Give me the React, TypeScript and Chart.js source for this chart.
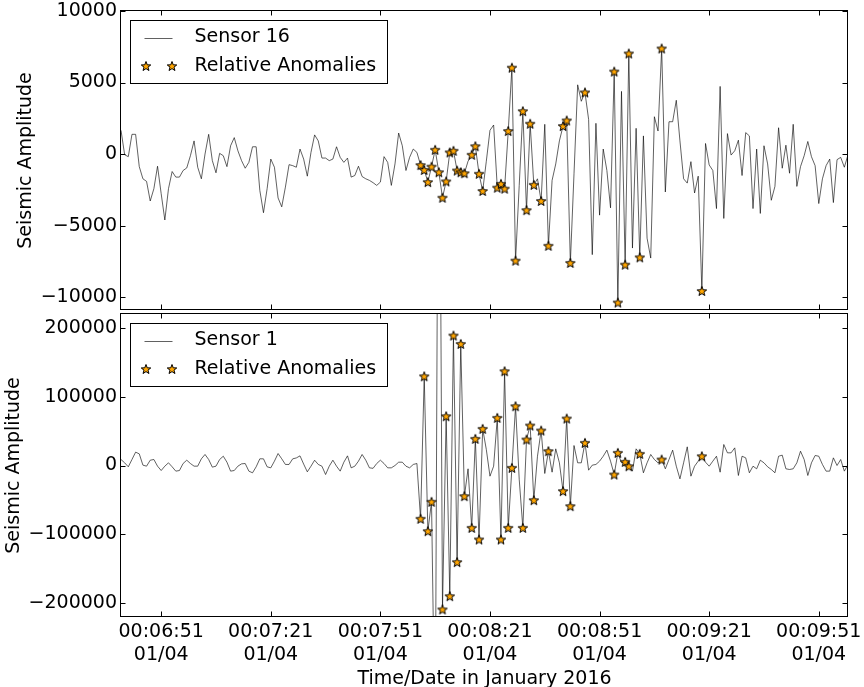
import React, { useEffect, useRef } from "react";
import { Chart, registerables } from "chart.js";

Chart.register(...registerables);

// ---- data ----
const START_SECONDS = 6 * 60 + 40; // 00:06:40, one sample per second

const SENSOR16 = [
  1660, -50, -180, 1380, 1380, -880, -1730, -1910, -3280, -2420,
  -850, -2770, -4610, -2420, -1220, -1610, -1610, -1150, -970, -115,
  920, -920, -1730, 0, 1380, -460, -1310, 50, -115, -880,
  580, 1150, 230, -460, -990, -580, 510, 510, -2540, -4100,
  -2420, -350, -920, -3070, -3690, -2310, -740, -810, -920, 350,
  -350, -1545, 115, 1340, 920, -280, -280, -460, -350, 510,
  -230, -580, -280, -1610, -1500, -850, -1570, -1730, -1840, -2000,
  -2190, -1960, -180, -580, -2190, -690, 1470, 580, -1150, -230,
  350, 115, -770, -1110, -1960, -880, 300, -1270, -3050, -1910,
  115, 230, -1150, -1270, -1340, -500, -50, 550, -1380, -2580,
  -500, 1660, 2030, -2350, -2080, -2420, 1610, 6040, -7450, -2200,
  3000, -3920, 2120, -2150, -1730, -3280, 2080, -6410, -1840, -690,
  920, 1960, 2350, -7610, -1380, 4840, 3690, 4310, 2420, -7030,
  2150, -4270, 350, -1150, -3760, 5770, -10380, 4380, -7730, 7030,
  -6570, 1800, -7220, 1270, -5880, -7270, 2610, 1610, 7380, -2650,
  2260, 2260, 3760, 920, -1730, -2030, -530, -2720, -1545, -9570,
  740, -760, -1150, -3810, 4730, -4500, 1430, -70, 230, 970,
  -1500, 1500, 1270, -3810, 350, -4150, 580, -690, -3230, -2260,
  1840, -990, 620, -1340, 2080, -2260, -880, -115, 880, -185,
  -810, -3460, -1730, -810, -350, -3390, -390, -230, -920, -50,
];

const SENSOR1 = [
  8700, 3900, -1900, 8700, 19400, 16900, 500, -970, 7700, 8700,
  -970, -7300, -970, 3900, -1900, -8200, -7300, 2900, 7700, 2900,
  -970, -970, 9700, 16000, 8700, -2400, -970, 8700, 13500, 4800,
  -8200, -7300, -970, 2400, 2900, -8200, -10600, -1900, 9700, 9700,
  -1900, -3400, 6300, 17400, 9700, 1500, 1500, 9700, 11000, 14000,
  2000, -9200, -1000, 7700, 1500, -1000, -13100, -1000, 7700, -1000,
  -8200, 4800, 14000, -3400, -1000, 6300, 16000, 7700, -3400, -4100,
  2900, 7700, 2900, -3400, -3400, 0, 4800, 4800, -1000, -3400,
  1500, 2900, -77400, 129600, -95300, -52700, -420000, 750000, -209000, 71600,
  -189700, 188700, -140300, 176600, -44500, -4800, -90500, 38700, -107400, 53200,
  23200, -15500, -1000, 69200, -107400, 136900, -90500, -3400, 86100, -20000,
  -90500, 37700, 58000, -50300, 13500, 50800, -11600, 20800, -9700, 24200,
  3900, -37200, 68200, -59000, 29000, 3900, 3900, 32900, -6800, 500,
  1500, 6300, 13500, 22300, 6300, -13100, 18400, 3900, 5300, -1000,
  -8200, 24200, 16900, -10600, 3900, 16000, 8700, 3900, 8700, -4800,
  8700, 22300, -1000, -19400, 3900, 27100, -15500, -1000, 6300, 13500,
  4800, -1000, 6300, 13500, -9700, 30500, 18400, 18400, 25600, -14500,
  13500, 11100, -10600, -1000, -4800, 7700, 3900, -1900, -5800, -10600,
  13500, 15000, -4800, -5800, -4800, 3900, 20800, 8700, -14500, 3900,
  14500, 13500, 1500, -8200, -8200, 11100, 0, 8700, -8200, 1500,
];

const ANOMALY_INDEX = [
  82, 83, 84, 85, 86, 87, 88, 89, 90, 91, 92, 93, 94,
  96, 97, 98, 99, 103, 104, 105, 106, 107, 108,
  110, 111, 112, 113, 115, 117, 121, 122, 123, 127,
  135, 136, 138, 139, 142, 148, 159,
];

const X_TICK_SECONDS = [411, 441, 471, 501, 531, 561, 591];
const X_TICK_TIME = ["00:06:51", "00:07:21", "00:07:51", "00:08:21", "00:08:51", "00:09:21", "00:09:51"];
const X_TICK_DATE = ["01/04", "01/04", "01/04", "01/04", "01/04", "01/04", "01/04"];
const X_TITLE = "Time/Date in January 2016";
const Y_TITLE = "Seismic Amplitude";

const TOP_Y_TICKS = [-10000, -5000, 0, 5000, 10000];
const TOP_Y_RANGE = [-10900, 10000];
const BOTTOM_Y_TICKS = [-200000, -100000, 0, 100000, 200000];
const BOTTOM_Y_RANGE = [-220000, 220000];

const TOP_LABELS = ["Sensor 16", "Relative Anomalies"];
const BOTTOM_LABELS = ["Sensor 1", "Relative Anomalies"];

// ---- styles ----
const LINE_COLOR = "rgba(0,0,0,0.62)";
const STAR_FILL = "#FFA500";
const FONT_FAMILY = '"DejaVu Sans", "Liberation Sans", sans-serif';
const FONT_SIZE = 19;

function makeStar(r: number): HTMLCanvasElement {
  const size = Math.ceil(r * 2 + 4);
  const c = document.createElement("canvas");
  c.width = size;
  c.height = size;
  const ctx = c.getContext("2d")!;
  const cx = size / 2;
  const cy = size / 2 + 0.5;
  const ri = r * 0.42;
  ctx.beginPath();
  for (let i = 0; i < 10; i++) {
    const rad = i % 2 === 0 ? r : ri;
    const a = -Math.PI / 2 + (i * Math.PI) / 5;
    const px = cx + rad * Math.cos(a);
    const py = cy + rad * Math.sin(a);
    if (i === 0) ctx.moveTo(px, py);
    else ctx.lineTo(px, py);
  }
  ctx.closePath();
  ctx.fillStyle = STAR_FILL;
  ctx.fill();
  ctx.lineWidth = 1;
  ctx.strokeStyle = "#000";
  ctx.stroke();
  return c;
}

function fmt(v: number): string {
  return String(v).replace("-", "\u2212");
}

const framePlugin = {
  id: "panelFrame",
  afterDatasetsDraw(chart: any, _args: any, opts: any) {
    const { ctx, chartArea: a } = chart;
    const xs = chart.scales.x;
    const ys = chart.scales.y;
    const L = Math.round(a.left) - 0.5;
    const R = Math.round(a.right) - 0.5;
    const T = Math.round(a.top) - 0.5;
    const B = Math.round(a.bottom) - 0.5;
    ctx.save();
    ctx.strokeStyle = "#000";
    ctx.lineWidth = 1;
    ctx.strokeRect(L, T, R - L, B - T);
    const len = 5;
    ctx.beginPath();
    for (const v of X_TICK_SECONDS) {
      const px = Math.round(xs.getPixelForValue(v)) + 0.5;
      ctx.moveTo(px, T);
      ctx.lineTo(px, T + len);
      ctx.moveTo(px, B);
      ctx.lineTo(px, B - len);
    }
    for (const v of opts.yTicks as number[]) {
      const py = Math.round(ys.getPixelForValue(v)) + 0.5;
      ctx.moveTo(L, py);
      ctx.lineTo(L + len, py);
      ctx.moveTo(R, py);
      ctx.lineTo(R - len, py);
    }
    ctx.stroke();
    ctx.restore();
  },
};

function makeLegendPlugin(star: HTMLCanvasElement) {
  return {
    id: "panelLegend",
    afterDraw(chart: any, _args: any, opts: any) {
      const { ctx, chartArea: a } = chart;
      const x0 = Math.round(a.left) + 9.5;
      const y0 = Math.round(a.top) + 9.5;
      const w = 257;
      const h = 63;
      ctx.save();
      ctx.fillStyle = "#fff";
      ctx.fillRect(x0, y0, w, h);
      ctx.strokeStyle = "#000";
      ctx.lineWidth = 1;
      ctx.strokeRect(x0, y0, w, h);
      const row1 = y0 + 17;
      const row2 = y0 + 45.5;
      ctx.strokeStyle = LINE_COLOR;
      ctx.beginPath();
      ctx.moveTo(x0 + 14, Math.round(row1) + 0.5);
      ctx.lineTo(x0 + 42, Math.round(row1) + 0.5);
      ctx.stroke();
      for (const sx of [x0 + 15, x0 + 41.5]) {
        ctx.drawImage(star, Math.round(sx - star.width / 2), Math.round(row2 - star.height / 2));
      }
      ctx.fillStyle = "#000";
      ctx.font = `${FONT_SIZE}px ${FONT_FAMILY}`;
      ctx.textBaseline = "middle";
      ctx.textAlign = "left";
      const labels = opts.labels as string[];
      ctx.fillText(labels[0], x0 + 64, row1);
      ctx.fillText(labels[1], x0 + 64, row2);
      ctx.restore();
    },
  };
}

function buildConfig(p: {
  values: number[];
  yRange: number[];
  yTicks: number[];
  labels: string[];
  showX: boolean;
  padding: any;
  xHeight: number;
  titlePad: number;
  star: HTMLCanvasElement;
}): any {
  const font = { family: FONT_FAMILY, size: FONT_SIZE };
  const lineData = p.values.map((v, i) => ({ x: START_SECONDS + i, y: v }));
  const anomalyData = ANOMALY_INDEX.map((i) => ({ x: START_SECONDS + i, y: p.values[i] }));
  return {
    type: "scatter",
    data: {
      datasets: [
        {
          data: lineData,
          showLine: true,
          borderColor: LINE_COLOR,
          borderWidth: 1,
          pointRadius: 0,
          pointHoverRadius: 0,
          tension: 0,
          order: 2,
        },
        {
          data: anomalyData,
          showLine: false,
          pointStyle: p.star,
          pointRadius: 5,
          pointHoverRadius: 5,
          order: 1,
        },
      ],
    },
    options: {
      responsive: false,
      animation: false,
      devicePixelRatio: 1,
      events: [],
      layout: { padding: p.padding },
      plugins: {
        legend: { display: false },
        tooltip: { enabled: false },
        panelLegend: { labels: p.labels },
        panelFrame: { yTicks: p.yTicks },
      },
      scales: {
        x: {
          type: "linear",
          min: START_SECONDS,
          max: START_SECONDS + p.values.length - 1,
          grid: { display: false, drawTicks: false, tickLength: 0 },
          border: { display: false },
          afterBuildTicks: (s: any) => {
            s.ticks = X_TICK_SECONDS.map((v) => ({ value: v }));
          },
          ticks: {
            display: p.showX,
            autoSkip: false,
            maxRotation: 0,
            minRotation: 0,
            padding: 4,
            color: "#000",
            font: { ...font, lineHeight: 1.2 },
            callback: (v: any) => {
              const k = X_TICK_SECONDS.indexOf(Number(v));
              return k < 0 ? "" : [X_TICK_TIME[k], X_TICK_DATE[k]];
            },
          },
          title: {
            display: p.showX,
            text: X_TITLE,
            color: "#000",
            font: { ...font, lineHeight: 1 },
            padding: { top: 0, bottom: -2 },
          },
          afterFit: (s: any) => {
            s.height = p.xHeight;
            s.paddingLeft = 0;
            s.paddingRight = 0;
          },
        },
        y: {
          type: "linear",
          min: p.yRange[0],
          max: p.yRange[1],
          grid: { display: false, drawTicks: false, tickLength: 0 },
          border: { display: false },
          afterBuildTicks: (s: any) => {
            s.ticks = p.yTicks.map((v) => ({ value: v }));
          },
          ticks: {
            autoSkip: false,
            padding: 4,
            color: "#000",
            font: { ...font, lineHeight: 1.2 },
            callback: (v: any) => fmt(Number(v)),
          },
          title: {
            display: true,
            text: Y_TITLE,
            color: "#000",
            font: { ...font, lineHeight: 1.2 },
            padding: { top: p.titlePad, bottom: 0 },
          },
          afterFit: (s: any) => {
            s.width = 121;
            s.paddingTop = 0;
            s.paddingBottom = 0;
          },
        },
      },
    },
    plugins: [framePlugin, makeLegendPlugin(p.star)],
  };
}

export default function App() {
  const topRef = useRef<HTMLCanvasElement>(null);
  const botRef = useRef<HTMLCanvasElement>(null);

  useEffect(() => {
    const star = makeStar(5);
    const c1 = new Chart(
      topRef.current!,
      buildConfig({
        values: SENSOR16,
        yRange: TOP_Y_RANGE,
        yTicks: TOP_Y_TICKS,
        labels: TOP_LABELS,
        showX: false,
        padding: { top: 11, left: 0, right: 16, bottom: 3 },
        xHeight: 0,
        titlePad: 15,
        star,
      })
    );
    const c2 = new Chart(
      botRef.current!,
      buildConfig({
        values: SENSOR1,
        yRange: BOTTOM_Y_RANGE,
        yTicks: BOTTOM_Y_TICKS,
        labels: BOTTOM_LABELS,
        showX: true,
        padding: { top: 14, left: 0, right: 16, bottom: 0 },
        xHeight: 70,
        titlePad: 3,
        star,
      })
    );
    return () => {
      c1.destroy();
      c2.destroy();
    };
  }, []);

  return (
    <div style={{ position: "fixed", left: 0, top: 0, width: 864, height: 687, background: "#fff" }}>
      <canvas ref={topRef} width={864} height={316} style={{ position: "absolute", left: 0, top: 0 }} />
      <canvas ref={botRef} width={864} height={387} style={{ position: "absolute", left: 0, top: 300 }} />
    </div>
  );
}
